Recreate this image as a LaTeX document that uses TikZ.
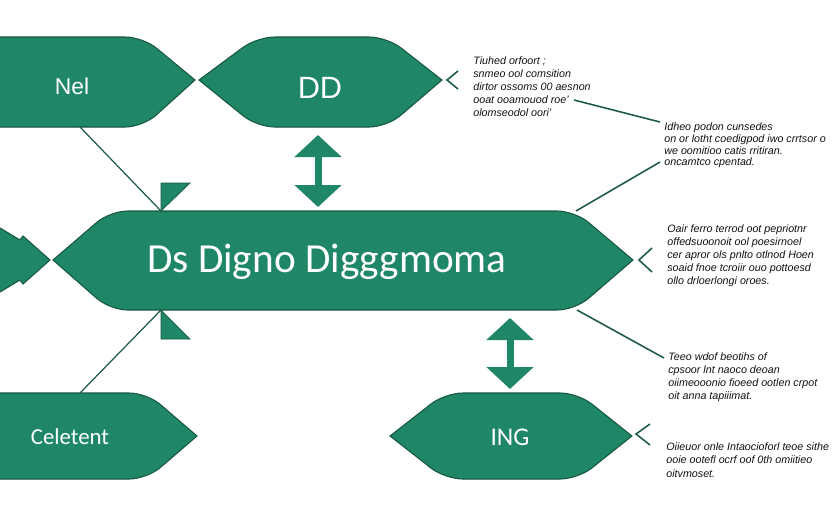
\documentclass[tikz,border=0pt]{standalone}
\usepackage{fontspec}
\setmainfont{Liberation Sans}
\newfontfamily\carlito{Carlito}
\usetikzlibrary{arrows.meta}
\definecolor{hexfill}{HTML}{1F8668}
\definecolor{hexedge}{HTML}{17573F}
\definecolor{linkline}{HTML}{1E5A47}
\definecolor{notetext}{HTML}{111111}
\tikzset{
  hexa/.style={fill=hexfill, draw=hexedge, line width=0.6pt},
  hexlabel/.style={text=white, inner sep=0pt},
  note/.style={anchor=north west, inner sep=0pt, align=left, text=notetext, font=\fontsize{6.1}{7.4}\selectfont\itshape},
  link/.style={draw=linkline, line width=0.9pt},
  chev/.style={draw=linkline, line width=0.9pt},
  flag/.style={fill=hexfill, draw=hexedge, line width=0.4pt},
  updown/.style={draw=hexfill, line width=0.14cm, {Triangle[width=0.92cm,length=0.44cm]}-{Triangle[width=0.92cm,length=0.44cm]}},
}
\begin{document}
\begin{tikzpicture}[x=0.02cm, y=-0.02cm]
\useasboundingbox (0,0) rectangle (832,512);
\clip (0,0) rectangle (832,512);

% top row
\draw[hexa] (-20,37) [rounded corners=10pt] -- (143,37) [sharp corners] -- (195,80) [rounded corners=10pt] -- (143,127) [sharp corners] -- (-20,127) -- cycle;
\draw[hexa] (199,80) [rounded corners=10pt] -- (257,37) -- (387,37) [sharp corners] -- (442,80) [rounded corners=10pt] -- (387,127) -- (257,127) [sharp corners] -- cycle;
\node[hexlabel, font=\fontsize{13}{15}\selectfont] (nel) at (72,86) {Nel};
\node[hexlabel, font=\fontsize{17.5}{20}\selectfont] (dd) at (320,88) {DD};

% main
\draw[hexa] (-10,222) -- (20,240) -- (23,236) -- (50,260) -- (23,284) -- (20,280) -- (-10,298) -- cycle;
\draw[hexa] (53,260) [rounded corners=10pt] -- (110,211) -- (575,211) [sharp corners] -- (633,260) [rounded corners=10pt] -- (575,310) -- (110,310) [sharp corners] -- cycle;
\node[hexlabel, font=\carlito\fontsize{23.5}{26}\selectfont] (main) at (327,262) {Ds Digno Digggmoma};

% bottom row
\draw[hexa] (-20,393) [rounded corners=10pt] -- (147,393) [sharp corners] -- (197,436) [rounded corners=10pt] -- (147,479) [sharp corners] -- (-20,479) -- cycle;
\draw[hexa] (390,436) [rounded corners=10pt] -- (445,393) -- (578,393) [sharp corners] -- (632,436) [rounded corners=10pt] -- (578,479) -- (445,479) [sharp corners] -- cycle;
\node[hexlabel, font=\carlito\fontsize{13}{15}\selectfont] (celetent) at (70,437) {Celetent};
\node[hexlabel, font=\carlito\fontsize{14.5}{16}\selectfont] (ing) at (510,437) {ING};

% connector ends
\coordinate (nelfoot) at (80,127);
\coordinate (mainflagtop) at (161,211);
\coordinate (mainflagbot) at (161,310);
\coordinate (celetenthead) at (80,393);
\coordinate (ddfoot) at (318,135);
\coordinate (mainhead) at (318,207);
\coordinate (mainfoot) at (510,318);
\coordinate (inghead) at (510,389);
\coordinate (mainNE) at (576,211);
\coordinate (mainSE) at (577,310);
\coordinate (ddpoint) at (447,80);
\coordinate (mainpoint) at (639,260);
\coordinate (ingpoint) at (636,434);

\draw[link, line width=0.7pt] (nelfoot) -- (mainflagtop);
\draw[link, line width=0.7pt] (celetenthead) -- (mainflagbot);
\draw[flag] (mainflagtop) -- ++(0,-28) -- ++(29,0) -- cycle;
\draw[flag] (mainflagbot) -- ++(0,29) -- ++(29,0) -- cycle;

\draw[updown] (ddfoot) -- (mainhead);
\draw[updown] (mainfoot) -- (inghead);

\draw[chev] (458,71) -- (ddpoint) -- (458,89);
\draw[chev] (652,248) -- (mainpoint) -- (652,272);
\draw[chev] (650,424) -- (ingpoint) -- (650,445);

% notes
\node[note] (noteA) at (473,56) {Tiuhed orfoort ;\\ snmeo ool comsition\\ dirtor ossoms 00 aesnon\\ ooat ooamouod roe'\\ olomseodol oori'};
\node[note, font=\fontsize{6.1}{6.8}\selectfont\itshape] (noteB) at (664,122) {Idheo podon cunsedes\\ on or lotht coedigpod iwo crrtsor o\\ we oomitioo catis rritiran.\\ oncamtco cpentad.};
\node[note] (noteC) at (667,224) {Oair ferro terrod oot pepriotnr\\ offedsuoonoit ool poesirnoel\\ cer apror ols pnlto otlnod Hoen\\ soaid fnoe tcroiir ouo pottoesd\\ ollo drloerlongi oroes.};
\node[note] (noteD) at (668,352) {Teeo wdof beotihs of\\ cpsoor lnt naoco deoan\\ oiimeooonio fioeed ootlen crpot\\ oit anna tapiiimat.};
\node[note, font=\fontsize{6.1}{7.7}\selectfont\itshape] (noteE) at (666,442) {Oiieuor onle Intaocioforl teoe sithe\\ ooie ootefl ocrf oof 0th omiitieo\\ oitvmoset.};

\coordinate (noteAend) at (574,100);
\coordinate (noteBstart) at (660,122);
\coordinate (noteBfoot) at (660,162);
\coordinate (noteDstart) at (664,358);
\draw[link] (noteAend) -- (noteBstart);
\draw[link] (mainNE) -- (noteBfoot);
\draw[link] (mainSE) -- (noteDstart);
\end{tikzpicture}
\end{document}
